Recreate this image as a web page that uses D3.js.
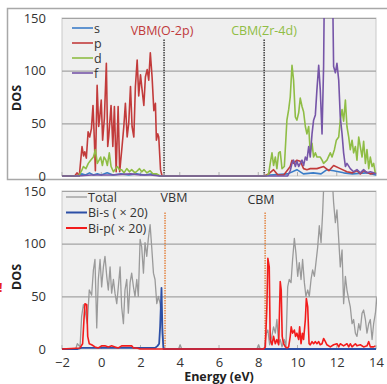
<!DOCTYPE html>
<html>
<head>
<meta charset="utf-8">
<script src="https://cdn.jsdelivr.net/npm/d3@7"></script>
<style>
  body { margin: 0; background: #fff; }
  svg { display: block; font-family: 'Open Sans', 'Noto Sans', sans-serif; }
</style>
</head>
<body>
<svg id="chart" width="387" height="384"></svg>
<script>
// energy (eV), DOS pairs
const sTop = [[-2,0],[-1.2,0],[-1.0,2],[-0.8,1],[-0.6,3],[-0.4,1],[-0.2,2],[0,1],[0.3,3],[0.6,1],[1.0,2],[1.4,1],[1.8,2],[2.2,1],[2.6,2],[3.0,0],
  [8.3,0],[8.6,1],[9.5,2],[9.97,6],[10.3,2],[10.8,3],[11.2,2],[11.5,6],[11.84,5],[12.35,3],[12.8,2],[13.5,3],[14,1]];
const pTop = [[-2,0],[-1.35,0],[-1.23,3],[-1.12,0],[-0.98,28],[-0.9,19],[-0.84,23],[-0.76,17],[-0.67,42],[-0.59,37],[-0.5,45],[-0.42,67],
  [-0.35,34],[-0.3,5],[-0.21,86],[-0.13,47],[-0.08,55],[0.0,72],[0.07,34],[0.16,55],[0.26,107],[0.33,28],[0.38,37],[0.5,67],[0.59,28],
  [0.67,66],[0.76,4],[0.86,66],[0.94,4],[1.06,28],[1.15,47],[1.23,69],[1.32,37],[1.4,50],[1.49,85],[1.57,47],[1.66,37],[1.74,85],
  [1.83,110],[1.91,76],[2.0,96],[2.08,82],[2.17,67],[2.25,94],[2.34,101],[2.42,91],[2.5,117],[2.59,94],[2.68,62],[2.76,69],[2.81,34],
  [2.88,40],[2.93,37],[3.02,6],[3.1,0],[8.3,0],[8.53,2],[8.78,6],[9.0,1],[9.3,1],[9.63,9],[9.72,15],[9.8,12],[9.97,15],[10.14,14],
  [10.31,7],[10.48,6],[10.65,7],[10.99,7],[11.33,9],[11.6,5],[11.84,10],[12.18,7],[12.52,4],[12.8,3],[13.03,5],[13.2,2],[13.37,5],[13.71,2],[14,3]];
const dTop = [[-2,0],[-1.15,0],[-1.0,5],[-0.91,9],[-0.78,7],[-0.66,12],[-0.54,15],[-0.4,18],[-0.3,25],[-0.2,12],[-0.11,15],[-0.03,18],
  [0.06,10],[0.14,18],[0.24,15],[0.31,10],[0.41,22],[0.5,9],[0.62,4],[0.74,7],[0.82,9],[0.93,6],[1.04,6],[1.16,3],[1.3,7],[1.44,4],
  [1.55,6],[1.72,3],[1.84,5],[1.95,7],[2.06,4],[2.18,6],[2.32,3],[2.49,5],[2.63,2],[2.83,2],[3.0,0],
  [8.4,0],[8.53,2],[8.61,12],[8.7,22],[8.78,10],[8.87,18],[8.95,7],[9.04,22],[9.12,23],[9.21,7],[9.33,9],[9.46,53],[9.55,63],[9.63,75],
  [9.72,105],[9.8,91],[9.89,56],[9.97,53],[10.06,60],[10.14,74],[10.23,66],[10.31,61],[10.4,47],[10.48,40],[10.57,47],[10.65,22],
  [10.74,31],[10.82,18],[10.91,22],[10.99,18],[11.16,18],[11.25,15],[11.33,12],[11.5,15],[11.67,22],[11.76,18],[11.88,25],[11.98,34],
  [12.1,37],[12.18,53],[12.27,63],[12.35,52],[12.44,72],[12.52,47],[12.61,37],[12.69,25],[12.78,34],[12.86,22],[12.95,28],[13.03,15],
  [13.12,37],[13.2,28],[13.29,18],[13.37,33],[13.46,12],[13.54,25],[13.63,7],[13.71,18],[13.8,9],[13.88,12],[13.97,2]];
const fTop = [[-2,0],[-1.2,0],[-0.5,1],[0.5,1],[1.5,2],[2.0,1],[2.5,1],[3,0],[9.5,0],[9.63,5],[9.72,12],[9.8,15],[9.89,9],[9.97,14],
  [10.06,9],[10.14,12],[10.23,15],[10.31,10],[10.4,18],[10.48,15],[10.57,28],[10.65,18],[10.74,40],[10.82,53],[10.91,58],[10.99,82],
  [11.08,105],[11.16,82],[11.25,40],[11.33,104],[11.38,200],[11.5,230],[11.67,220],[11.78,190],[11.84,104],[11.93,98],[12.01,107],
  [12.1,91],[12.18,56],[12.27,40],[12.35,22],[12.44,9],[12.52,12],[12.69,7],[12.86,4],[13.03,6],[13.2,3],[13.37,6],[13.54,3],[13.71,4],[13.88,3],[14,2]];

const totalBot = [[-2,0],[-1.3,0],[-1.22,5],[-1.08,2],[-1.0,31],[-0.91,42],[-0.83,37],[-0.71,24],[-0.61,56],[-0.49,51],[-0.4,75],[-0.32,85],
  [-0.23,20],[-0.15,66],[-0.06,85],[0.02,59],[0.11,78],[0.19,88],[0.28,69],[0.36,56],[0.45,78],[0.53,53],[0.62,66],[0.7,53],[0.79,43],
  [0.87,59],[0.96,78],[1.04,40],[1.13,24],[1.21,56],[1.3,66],[1.38,34],[1.47,63],[1.55,72],[1.64,59],[1.72,50],[1.81,66],[1.89,50],
  [1.98,104],[2.06,97],[2.15,72],[2.23,101],[2.32,88],[2.4,105],[2.49,118],[2.57,97],[2.66,72],[2.74,66],[2.83,43],[2.91,50],[3.0,43],
  [3.09,28],[3.17,2],[3.26,0],[3.94,0],[4.02,4],[4.1,0],[7.93,0],[8.02,4],[8.1,0],[8.31,0],[8.41,15],[8.49,18],[8.58,4],[8.66,9],
  [8.78,21],[8.87,15],[8.95,28],[9.04,5],[9.12,9],[9.21,2],[9.33,9],[9.41,2],[9.5,59],[9.58,66],[9.67,63],[9.75,85],[9.84,105],
  [9.92,91],[10.01,69],[10.09,82],[10.18,66],[10.26,85],[10.35,63],[10.43,50],[10.52,56],[10.6,50],[10.69,66],[10.77,75],[10.86,69],
  [10.94,82],[11.03,97],[11.11,117],[11.2,101],[11.28,129],[11.37,170],[11.54,190],[11.76,165],[11.84,139],[11.93,120],[12.01,132],
  [12.1,104],[12.18,78],[12.27,94],[12.35,43],[12.44,69],[12.52,56],[12.61,47],[12.69,40],[12.78,24],[12.86,28],[12.95,15],[13.03,12],
  [13.12,24],[13.2,18],[13.29,34],[13.37,37],[13.46,28],[13.54,15],[13.63,24],[13.71,28],[13.8,9],[13.88,24],[13.97,34],[14.05,50]];
const biSBot = [[-2,0],[-1.2,0],[-1.0,1],[0,1],[1,1],[2,1],[2.75,1],[2.87,3],[2.95,5],[3.0,21],[3.07,58],[3.12,15],[3.17,0],[14,0]];
const biPBot = [[-2,0],[-1.08,1],[-0.95,5],[-0.88,28],[-0.83,43],[-0.74,42],[-0.69,12],[-0.61,5],[-0.49,4],[-0.32,2],[-0.15,1],[0.02,3],
  [0.19,3],[0.36,2],[0.53,3],[0.7,2],[0.87,1],[1.04,3],[1.21,3],[1.38,3],[1.55,3],[1.64,1],[1.81,1],[1.98,0],[8.27,0],[8.36,2],
  [8.44,40],[8.49,86],[8.56,78],[8.61,9],[8.7,4],[8.78,12],[8.87,5],[8.95,9],[9.04,4],[9.12,64],[9.17,56],[9.22,12],[9.29,5],[9.38,2],
  [9.46,1],[9.55,2],[9.63,12],[9.68,21],[9.75,15],[9.84,18],[9.9,12],[9.97,15],[10.06,9],[10.11,21],[10.18,5],[10.25,15],[10.31,9],
  [10.4,28],[10.45,48],[10.52,40],[10.59,5],[10.65,4],[10.74,7],[10.82,5],[10.91,7],[10.99,5],[11.08,7],[11.16,4],[11.25,5],[11.33,10],
  [11.42,7],[11.5,4],[11.67,2],[11.84,4],[12.01,5],[12.1,2],[12.18,5],[12.35,3],[12.52,5],[12.61,2],[12.69,5],[12.78,2],[12.95,5],
  [13.03,3],[13.2,4],[13.37,2],[13.54,3],[13.63,7],[13.71,2],[13.88,2],[13.97,3]];

const xTicks = [-2, 0, 2, 4, 6, 8, 10, 12, 14];
const yTicks = [0, 50, 100, 150];
const bandEdges = { top: [3.2, 8.3], bottom: [3.25, 8.35] };

const svg = d3.select('#chart');
const x = d3.scaleLinear().domain([-2, 14]).range([62, 376]);
const yTop = d3.scaleLinear().domain([0, 150]).range([176, 18]);
const yBot = d3.scaleLinear().domain([0, 150]).range([349, 191]);

// outer frame of the upper panel
svg.append('path')
  .attr('d', 'M387,8.5H7.5V179.5H387')
  .attr('fill', 'none').attr('stroke', '#a8a8a8').attr('stroke-width', 1.5);

function panel(y, id, series, edges, edgeColor) {
  const g = svg.append('g');
  g.append('rect')
    .attr('x', x(-2)).attr('y', y(150))
    .attr('width', x(14) - x(-2)).attr('height', y(0) - y(150))
    .attr('fill', '#efefef').attr('stroke', '#c9c9c9');
  g.selectAll('.grid').data(yTicks.slice(1)).enter().append('line')
    .attr('x1', x(-2)).attr('x2', x(14))
    .attr('y1', d => y(d) + 0.5).attr('y2', d => y(d) + 0.5)
    .attr('stroke', '#a3a3a3').attr('stroke-width', 1.2);
  // small inner ticks
  g.selectAll('.tk').data(xTicks).enter().append('line')
    .attr('x1', d => x(d)).attr('x2', d => x(d))
    .attr('y1', y(0)).attr('y2', y(0) - 4)
    .attr('stroke', '#b0b0b0');

  const ax = g.append('g')
    .attr('transform', 'translate(' + x(-2) + ',0)')
    .call(d3.axisLeft(y).tickValues(yTicks).tickSize(0).tickPadding(16));
  ax.select('.domain').remove();
  ax.selectAll('text').attr('font-size', 13).attr('fill', '#333')
    .attr('font-family', "'Open Sans', sans-serif");

  svg.append('clipPath').attr('id', id)
    .append('rect').attr('x', x(-2)).attr('y', y(150))
    .attr('width', x(14) - x(-2) + 1).attr('height', y(0) - y(150) + 2);

  const line = d3.line().x(d => x(d[0])).y(d => y(d[1]));
  const lg = g.append('g').attr('clip-path', 'url(#' + id + ')');
  edges.forEach(e => {
    lg.append('line')
      .attr('x1', x(e)).attr('x2', x(e))
      .attr('y1', y(0)).attr('y2', y(130))
      .attr('stroke', edgeColor).attr('stroke-width', 1.3)
      .attr('stroke-dasharray', '1.5,1');
  });
  series.forEach(s => {
    lg.append('path').datum(s.data)
      .attr('d', line)
      .attr('fill', 'none')
      .attr('stroke', s.color)
      .attr('stroke-width', s.width || 1.6)
      .attr('stroke-linejoin', 'round');
  });
  return g;
}

const topG = panel(yTop, 'clipTop', [
  { data: sTop, color: '#3b7dc8' },
  { data: pTop, color: '#c23b3b' },
  { data: dTop, color: '#8fbd45' },
  { data: fTop, color: '#7655a8' }
], bandEdges.top, '#222');

const botG = panel(yBot, 'clipBot', [
  { data: totalBot, color: '#9a9a9a', width: 1.3 },
  { data: biSBot, color: '#2c4fa6', width: 1.8 },
  { data: biPBot, color: '#f21c1c', width: 1.6 }
], bandEdges.bottom, '#e0762a');

// x axis under the lower panel
const xa = svg.append('g')
  .attr('transform', 'translate(0,' + yBot(0) + ')')
  .call(d3.axisBottom(x).tickValues(xTicks).tickSize(0).tickPadding(9));
xa.select('.domain').remove();
xa.selectAll('text').attr('font-size', 13).attr('fill', '#333')
  .attr('font-family', "'Open Sans', sans-serif");

svg.append('text').attr('x', 219).attr('y', 381)
  .attr('text-anchor', 'middle').attr('font-weight', 'bold')
  .attr('font-size', 12.5).attr('fill', '#222').text('Energy (eV)');

[[98, 'DOS'], [277, 'DOS']].forEach(d => {
  svg.append('text')
    .attr('transform', 'translate(21,' + d[0] + ') rotate(-90)')
    .attr('text-anchor', 'middle').attr('font-weight', 'bold')
    .attr('font-size', 12.5).attr('fill', '#222').text(d[1]);
});

// legends
function legend(items, x0, y0, step, fs) {
  items.forEach((it, i) => {
    const yy = y0 + i * step;
    svg.append('line').attr('x1', x0).attr('x2', x0 + 21)
      .attr('y1', yy).attr('y2', yy)
      .attr('stroke', it.color).attr('stroke-width', it.w || 1.6);
    svg.append('text').attr('x', x0 + 22).attr('y', yy + 4.5)
      .attr('font-size', fs).attr('fill', '#333').text(it.label);
  });
}
legend([
  { label: 's', color: '#3b7dc8' },
  { label: 'p', color: '#c23b3b' },
  { label: 'd', color: '#8fbd45' },
  { label: 'f', color: '#7655a8' }
], 72, 28, 15, 12.5);
legend([
  { label: 'Total', color: '#9a9a9a', w: 1.3 },
  { label: 'Bi-s ( \u00d7 20)', color: '#2c4fa6', w: 2 },
  { label: 'Bi-p( \u00d7 20)', color: '#f21c1c', w: 2 }
], 66, 197, 15.5, 12.5);

// band edge labels
svg.append('text').attr('x', 162).attr('y', 35).attr('text-anchor', 'middle')
  .attr('font-size', 12.5).attr('fill', '#c0393b').text('VBM(O-2p)');
svg.append('text').attr('x', 264).attr('y', 35).attr('text-anchor', 'middle')
  .attr('font-size', 12.5).attr('fill', '#8fbd45').text('CBM(Zr-4d)');
svg.append('text').attr('x', 174).attr('y', 202).attr('text-anchor', 'middle')
  .attr('font-size', 12.5).attr('fill', '#333').text('VBM');
svg.append('text').attr('x', 261).attr('y', 204).attr('text-anchor', 'middle')
  .attr('font-size', 12.5).attr('fill', '#333').text('CBM');

// mark at the left edge
svg.append('text').attr('x', -1).attr('y', 292)
  .attr('font-size', 12).attr('font-weight', 'bold').attr('fill', '#e8221c').text('!');
</script>
</body>
</html>
